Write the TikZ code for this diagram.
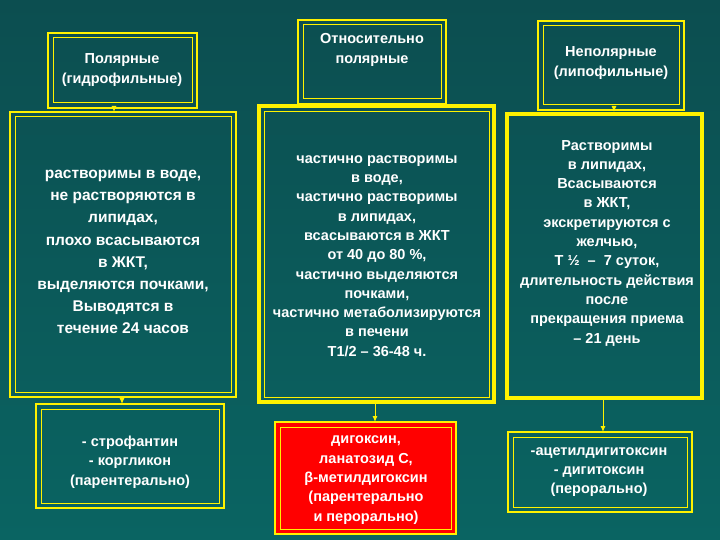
\documentclass[tikz,border=0pt]{standalone}
\usepackage{fontspec}
\setmainfont{Liberation Sans}
\usetikzlibrary{arrows.meta}
\begin{document}
\begin{tikzpicture}[x=1pt,y=-1pt,
  outer/.style={draw=yellow, line width=2.2pt},
  inner/.style={draw=yellow, line width=1pt},
  thick box/.style={draw=yellow, line width=4.5pt},
  txt/.style={text=white, font=\bfseries\fontsize{14.5}{19.3}\selectfont, align=center},
  conn/.style={draw=yellow, line width=1pt},
  arr/.style={conn,-{Latex[length=6pt,width=5pt]}}]
\useasboundingbox (0,0) rectangle (720,540);
\shade[top color={rgb,255:red,12;green,78;blue,80}, bottom color={rgb,255:red,10;green,100;blue,98}] (0,0) rectangle (720,540);
% headers
\draw[outer] (48,33) rectangle (197,108); \draw[inner] (53,38) rectangle (192,103);
\coordinate (h1b) at (114,108);
\node[txt] (h1) at (122,70) {Полярные\\(гидрофильные)};
\draw[outer] (298,20) rectangle (446,104); \draw[inner] (303,25) rectangle (441,99);
\coordinate (h2b) at (372,104);
\node[txt] (h2) at (372,50) {Относительно\\полярные};
\draw[outer] (538,21) rectangle (684,110); \draw[inner] (543,26) rectangle (679,105);
\coordinate (h3b) at (614,110);
\node[txt] (h3) at (611,63) {Неполярные\\(липофильные)};
% middle boxes
\draw[outer] (10,112) rectangle (236,397); \draw[inner] (15,117) rectangle (231,392);
\coordinate (m1t) at (114,112); \coordinate (m1b) at (122,397);
\node[txt, font=\bfseries\fontsize{15.5}{22.2}\selectfont] (m1) at (123,252) {растворимы в воде,\\не растворяются в\\липидах,\\плохо всасываются\\в ЖКТ,\\выделяются почками,\\Выводятся в\\течение 24 часов};
\draw[thick box] (259,106) rectangle (494,402);
\draw[yellow,line width=0.8pt] (264,111) rectangle (489,397);
\coordinate (m2t) at (372,104); \coordinate (m2b) at (375,404);
\node[txt] (m2) at (377,256) {частично растворимы\\в воде,\\частично растворимы\\в липидах,\\всасываются в ЖКТ\\от 40 до 80 \%,\\частично выделяются\\почками,\\частично метаболизируются\\в печени\\Т1/2 – 36-48 ч.};
\draw[thick box] (507,114) rectangle (702,398);
\coordinate (m3t) at (614,112); \coordinate (m3b) at (603,400);
\node[txt] (m3) at (607,243) {Растворимы\\в липидах,\\Всасываются\\в ЖКТ,\\экскретируются с\\желчью,\\Т ½ \ – \ 7 суток,\\длительность действия\\после\\прекращения приема\\– 21 день};
% bottom boxes
\draw[outer] (36,404) rectangle (224,508); \draw[inner] (41,409) rectangle (219,503);
\coordinate (b1t) at (122,404);
\node[txt] (b1) at (130,462) {- строфантин\\- коргликон\\(парентерально)};
\draw[outer,fill=red] (275,422) rectangle (456,534); \draw[inner] (280,427) rectangle (451,529);
\coordinate (b2t) at (375,422);
\node[txt] (b2) at (366,480) {дигоксин,\\ланатозид С,\\β-метилдигоксин\\(парентерально\\и перорально)};
\draw[outer] (508,432) rectangle (692,512); \draw[inner] (513,437) rectangle (687,507);
\coordinate (b3t) at (603,432);
\node[txt] (b3) at (599,472) {-ацетилдигитоксин\\- дигитоксин\\(перорально)};
% connectors
\draw[arr] (h1b) -- (m1t);
\draw[conn] (h2b) -- (m2t);
\draw[arr] (h3b) -- (m3t);
\draw[arr] (m1b) -- (b1t);
\draw[arr] (m2b) -- (b2t);
\draw[arr] (m3b) -- (b3t);
\end{tikzpicture}
\end{document}
